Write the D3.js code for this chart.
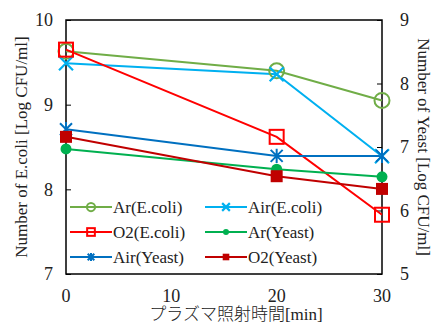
<!DOCTYPE html>
<html>
<head>
<meta charset="utf-8">
<script src="https://cdn.jsdelivr.net/npm/d3@7"></script>
<style>
  body { margin: 0; background: #fff; }
  svg { display: block; }
  text { font-family: "Liberation Serif", "Noto Sans CJK JP", serif; fill: #222; }
</style>
</head>
<body>
<svg id="chart" width="438" height="325"></svg>
<script>
const times = [0, 20, 30];
const xTicks = [0, 10, 20, 30];
const leftTicks = [7, 8, 9, 10];
const rightTicks = [5, 6, 7, 8, 9];

const arEcoli = [9.63, 9.40, 9.05];
const airEcoli = [9.49, 9.36, 8.39];
const o2Ecoli = [9.65, 8.62, 7.70];
const arYeast = [6.97, 6.65, 6.53];
const airYeast = [7.28, 6.86, 6.86];
const o2Yeast = [7.16, 6.54, 6.34];

const series = [
  { name: "Ar(E.coli)", values: arEcoli, axis: "left", color: "#70ad47", marker: "openCircle" },
  { name: "Air(E.coli)", values: airEcoli, axis: "left", color: "#00b0f0", marker: "cross" },
  { name: "O2(E.coli)", values: o2Ecoli, axis: "left", color: "#ff0000", marker: "openSquare" },
  { name: "Ar(Yeast)", values: arYeast, axis: "right", color: "#00b050", marker: "dot" },
  { name: "Air(Yeast)", values: airYeast, axis: "right", color: "#0070c0", marker: "star" },
  { name: "O2(Yeast)", values: o2Yeast, axis: "right", color: "#c00000", marker: "square" },
];

const svg = d3.select("#chart");
const m = { left: 66, right: 56, top: 20, bottom: 51 };
const W = 438, H = 325;

const x = d3.scaleLinear().domain([0, 30]).range([m.left, W - m.right]);
const yL = d3.scaleLinear().domain([7, 10]).range([H - m.bottom, m.top]);
const yR = d3.scaleLinear().domain([5, 9]).range([H - m.bottom, m.top]);

// frame
svg.append("rect")
  .attr("x", m.left).attr("y", m.top)
  .attr("width", W - m.left - m.right).attr("height", H - m.top - m.bottom)
  .attr("fill", "none").attr("stroke", "#000").attr("stroke-width", 1.5);

// left axis (ticks inside)
const gl = svg.append("g").attr("transform", `translate(${m.left},0)`)
  .call(d3.axisRight(yL).tickValues(leftTicks).tickSize(5).tickFormat(""));
gl.select(".domain").remove();
svg.append("g").selectAll("text").data(leftTicks).join("text")
  .attr("x", m.left - 13).attr("y", (d) => yL(d)).attr("dy", "0.35em")
  .attr("text-anchor", "end").attr("font-size", 18).text((d) => d);

// right axis
const gr = svg.append("g").attr("transform", `translate(${W - m.right},0)`)
  .call(d3.axisLeft(yR).tickValues(rightTicks).tickSize(5).tickFormat(""));
gr.select(".domain").remove();
svg.append("g").selectAll("text").data(rightTicks).join("text")
  .attr("x", W - m.right + 18).attr("y", (d) => yR(d)).attr("dy", "0.35em")
  .attr("text-anchor", "start").attr("font-size", 18).text((d) => d);

// x tick labels
svg.append("g").selectAll("text").data(xTicks).join("text")
  .attr("x", (d) => x(d)).attr("y", H - m.bottom + 28)
  .attr("text-anchor", "middle").attr("font-size", 18).text((d) => d);

// axis titles
svg.append("text")
  .attr("transform", `translate(27,${(m.top + H - m.bottom) / 2}) rotate(-90)`)
  .attr("text-anchor", "middle").attr("font-size", 17)
  .text("Number of E.coli [Log CFU/ml]");
svg.append("text")
  .attr("transform", `translate(${W - 20},${(m.top + H - m.bottom) / 2}) rotate(90)`)
  .attr("text-anchor", "middle").attr("font-size", 17)
  .text("Number of Yeast [Log CFU/ml]");
svg.append("text")
  .attr("x", (m.left + W - m.right) / 2 + 12).attr("y", H - 5)
  .attr("text-anchor", "middle").attr("font-size", 17).attr("font-weight", 300)
  .text("プラズマ照射時間[min]");

function drawMarker(g, type, color, big) {
  const s = big ? 1 : 0.55;
  if (type === "openCircle") {
    g.append("circle").attr("r", 7.5 * s).attr("fill", "none").attr("stroke", color).attr("stroke-width", 2);
  } else if (type === "openSquare") {
    const h = 7 * s;
    g.append("rect").attr("x", -h).attr("y", -h).attr("width", 2 * h).attr("height", 2 * h)
      .attr("fill", "none").attr("stroke", color).attr("stroke-width", 2);
  } else if (type === "cross") {
    const h = 7 * s;
    g.append("path").attr("d", `M${-h},${-h}L${h},${h}M${-h},${h}L${h},${-h}`)
      .attr("stroke", color).attr("stroke-width", 2.2);
  } else if (type === "dot") {
    g.append("circle").attr("r", 5.5 * s).attr("fill", color);
  } else if (type === "square") {
    const h = 6 * s;
    g.append("rect").attr("x", -h).attr("y", -h).attr("width", 2 * h).attr("height", 2 * h).attr("fill", color);
  } else if (type === "star") {
    const h = 6 * s;
    g.append("path").attr("d", `M${-h},${-h}L${h},${h}M${-h},${h}L${h},${-h}M0,${-h * 1.2}L0,${h * 1.2}`)
      .attr("stroke", color).attr("stroke-width", 2);
  }
}

// legend (drawn below the data)
const legRows = [[0, 1], [2, 3], [4, 5]];
const legend = svg.append("g");
legRows.forEach((row, ri) => {
  row.forEach((si, ci) => {
    const s = series[si];
    const lx = ci === 0 ? 70 : 205;
    const ly = 207 + ri * 25;
    const item = legend.append("g").attr("transform", `translate(${lx},${ly})`);
    item.append("line").attr("x1", 0).attr("x2", 42).attr("stroke", s.color).attr("stroke-width", 2);
    drawMarker(item.append("g").attr("transform", "translate(21,0)"), s.marker, s.color, false);
    item.append("text").attr("x", 43).attr("dy", "0.35em").attr("font-size", 17).text(s.name);
  });
});

// lines and markers
const layers = svg.append("g");
series.forEach((s) => {
  const y = s.axis === "left" ? yL : yR;
  const pts = times.map((t, i) => [x(t), y(s.values[i])]);
  layers.append("path").attr("d", d3.line()(pts))
    .attr("fill", "none").attr("stroke", s.color).attr("stroke-width", 2);
});
series.forEach((s) => {
  const y = s.axis === "left" ? yL : yR;
  times.forEach((t, i) => {
    drawMarker(layers.append("g").attr("transform", `translate(${x(t)},${y(s.values[i])})`), s.marker, s.color, true);
  });
});
</script>
</body>
</html>
